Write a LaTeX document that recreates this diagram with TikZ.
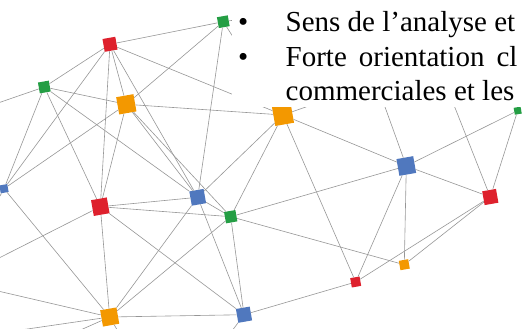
\documentclass[tikz,border=0pt]{standalone}
\usepackage{fontspec}
\setmainfont{Liberation Serif}
\definecolor{nred}{RGB}{222,33,45}
\definecolor{ngreen}{RGB}{36,158,68}
\definecolor{norange}{RGB}{243,152,0}
\definecolor{nblue}{RGB}{80,120,190}
\definecolor{nline}{RGB}{150,150,150}

\begin{document}
\begin{tikzpicture}[x=1pt,y=-1pt,
	sq/.style={rectangle,inner sep=0pt,minimum size=#1,rotate=10},
	rsq/.style={sq=#1,fill=nred},
	gsq/.style={sq=#1,fill=ngreen},
	osq/.style={sq=#1,fill=norange},
	bsq/.style={sq=#1,fill=nblue},
	link/.style={draw=nline,line width=0.6pt},
	txt/.style={anchor=base west,inner sep=0pt,font=\fontsize{29}{35}\selectfont},
	dot/.style={anchor=base,inner sep=0pt,font=\fontsize{29}{35}\selectfont}]
			\useasboundingbox (0,0) rectangle (523,329);
			\clip (0,0) rectangle (523,329);
			
			% squares
			
			\node[rsq=13] (R1) at (110,44.3) {};
			\node[gsq=11] (G1) at (223.3,21.7) {};
			\node[gsq=11] (G2) at (44.3,87) {};
			\node[osq=17.5] (O1) at (126.3,104.3) {};
			\node[osq=19] (O2) at (283,115) {};
			\node[gsq=7] (G3) at (517.7,110.7) {};
			\node[bsq=17] (B1) at (406.3,166) {};
			\node[bsq=8] (B2) at (4,188.7) {};
			\node[rsq=16] (R2) at (100.3,206.7) {};
			\node[bsq=14.5] (B3) at (197.7,197.3) {};
			\node[gsq=11.5] (G4) at (230.7,216.7) {};
			\node[rsq=14] (R3) at (490.3,197) {};
			\node[osq=9.5] (O3) at (404.3,264.7) {};
			\node[rsq=9.5] (R4) at (355.7,282) {};
			\node[osq=16.5] (O4) at (109.7,317) {};
			\node[bsq=14] (B4) at (244,314.7) {};
			
			% loose ends
			
			\coordinate (eG2) at (0,102.3);
			\coordinate (eB2) at (0,196);
			\coordinate (eR2) at (0,257.5);
			\coordinate (eO4a) at (0,291.5);
			\coordinate (eO4b) at (0,333);
			\coordinate (eO4c) at (58,340);
			\coordinate (eO4d) at (123,340);
			\coordinate (eB4) at (229,335);
			\coordinate (hG1) at (262,16);
			\coordinate (hO2) at (340,95);
			\coordinate (hB1) at (376,82);
			\coordinate (hR3) at (448,90);
			
			% links
			
			\foreach \a/\b in {R1/G1,R1/G2,R1/O2,R1/B2,R1/R2,R1/O1,R1/B3,
				G1/O1,G1/B3,G1/O2,G1/hG1,G2/O1,G2/B3,G2/R2,G2/B2,G2/eG2,
				O1/B2,O1/R2,O1/O2,O1/B3,O1/G4,O2/B1,O2/R4,O2/B3,O2/G4,O2/hO2,
				B2/O4,B2/eB2,R2/B3,R2/G4,R2/B4,R2/O4,R2/eR2,
				O4/B3,O4/G4,O4/B4,O4/eO4a,O4/eO4b,O4/eO4c,O4/eO4d,
				B3/G4,B3/B4,G4/B1,G4/O3,G4/B4,B4/R4,B4/eB4,
				B1/G3,B1/R3,B1/O3,B1/R4,B1/hB1,R3/G3,R3/R4,R3/O3,R3/hR3}
				\draw[link] (\a) -- (\b);
			
			% text
			
			\fill[white] (232,-5) rectangle (530,107.5);
			\node[dot] (d1) at (243.3,31.5) {\textbullet};
			\node[txt] (l1) at (285.5,31.5) {Sens de l’analyse et};
			\node[dot] (d2) at (243.3,66.7) {\textbullet};
			\node[txt] (l2) at (285.5,66.7) {Forte\hspace{12pt}orientation\hspace{12pt}cl};
			\node[txt] (l3) at (285.5,101) {commerciales et les};
			
		\end{tikzpicture}
\end{document}
